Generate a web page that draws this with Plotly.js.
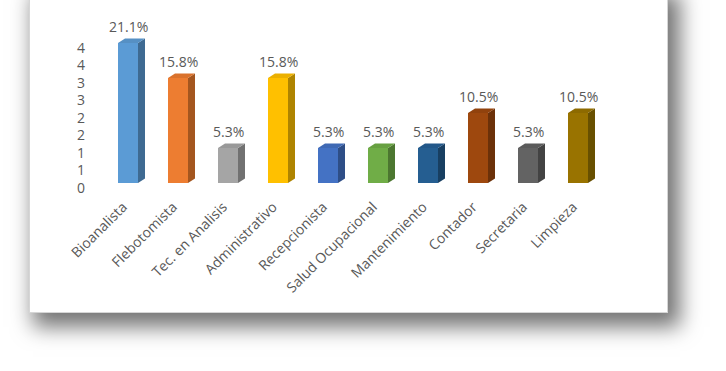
<!DOCTYPE html>
<html>
<head>
<meta charset="utf-8">
<script src="https://cdn.plot.ly/plotly-3.0.1.min.js"></script>
<style>
html,body{margin:0;padding:0;background:#fff;overflow:hidden;width:726px;height:371px;}
#card{position:absolute;left:29px;top:-12px;width:637px;height:323px;background:#fff;border:1px solid #d6d6d6;box-shadow:8px 10px 20px 4px rgba(0,0,0,0.55);}
#chart{position:absolute;left:0;top:0;width:726px;height:371px;}
</style>
</head>
<body>
<div id="card"></div>
<div id="chart"></div>
<script>
// ---- data ----
var categories = ["Bioanalista","Flebotomista","Tec. en Analisis","Administrativo","Recepcionista","Salud Ocupacional","Mantenimiento","Contador","Secretaria","Limpieza"];
var counts = [4,3,1,3,1,1,1,2,1,2];
var pctLabels = ["21.1%","15.8%","5.3%","15.8%","5.3%","5.3%","5.3%","10.5%","5.3%","10.5%"];
var yTickVals = [0,0.5,1,1.5,2,2.5,3,3.5,4];
var yTickText = ["0","1","1","2","2","3","3","4","4"];
var frontColors = ["#5B9BD5","#ED7D31","#A5A5A5","#FFC000","#4472C4","#70AD47","#255E91","#9E480E","#636363","#997300"];
var sideColors  = ["#3E6A92","#A4561F","#717171","#AF8400","#2E4E87","#4C7730","#183F62","#6C3109","#434343","#685000"];
var topColors   = ["#5690C4","#DA722C","#999999","#EBB000","#3F69B4","#67A041","#225789","#91420D","#5B5B5B","#8D6A00"];

// ---- style constants ----
var W = 0.4;      // front face width (category units)
var DX = 0.14;    // depth offset x (category units)
var DY = 0.13;    // depth offset y (value units)
var FONT = "Open Sans, Liberation Sans, sans-serif";
var TXT = "#595959";

var traces = [];
// front faces
traces.push({
  type:"bar", x: categories.map(function(c,i){return i;}), y: counts,
  width: W, marker:{color: frontColors, line:{width:0}}, hoverinfo:"skip", showlegend:false
});
// side and top faces
categories.forEach(function(c,i){
  var v = counts[i], l = i - W/2, r = i + W/2;
  traces.push({type:"scatter", mode:"lines", fill:"toself", fillcolor: sideColors[i],
    line:{width:0}, hoverinfo:"skip", showlegend:false,
    x:[r, r+DX, r+DX, r, r], y:[0, DY, v+DY, v, 0]});
  traces.push({type:"scatter", mode:"lines", fill:"toself", fillcolor: topColors[i],
    line:{width:0}, hoverinfo:"skip", showlegend:false,
    x:[l, r, r+DX, l+DX, l], y:[v, v, v+DY, v+DY, v]});
});

var annotations = categories.map(function(c,i){
  return {x: i + 0.01, y: counts[i] + DY, xref:"x", yref:"y", text: pctLabels[i],
    showarrow:false, yanchor:"bottom", yshift:0, font:{family:FONT, size:14, color:TXT}};
});
annotations.push({x:0.492, y:1.093, xref:"paper", yref:"paper", text:"Gráfico 5", showarrow:false,
  yanchor:"bottom", font:{family:FONT, size:18, color:"#7f7f7f"}});

var layout = {
  width:726, height:371,
  margin:{l:88, r:108, t:22, b:188, pad:0},
  paper_bgcolor:"rgba(0,0,0,0)", plot_bgcolor:"rgba(0,0,0,0)",
  showlegend:false,
  xaxis:{range:[-0.8,9.8], tickvals: categories.map(function(c,i){return i;}), ticktext: categories,
    tickangle:-45, showgrid:false, zeroline:false, showline:false, ticks:"",
    tickfont:{family:FONT, size:14, color:TXT}, ticklabelstandoff:12, ticklabelshift:-5, fixedrange:true},
  yaxis:{range:[0,4.6], tickvals:yTickVals, ticktext:yTickText, showgrid:false, zeroline:false,
    showline:false, ticks:"", ticklabelshift:5, ticklabelstandoff:2,
    tickfont:{family:FONT, size:14, color:TXT}, fixedrange:true},
  annotations: annotations,
  bargap:0
};
Plotly.newPlot("chart", traces, layout, {staticPlot:true, displayModeBar:false});
</script>
</body>
</html>
